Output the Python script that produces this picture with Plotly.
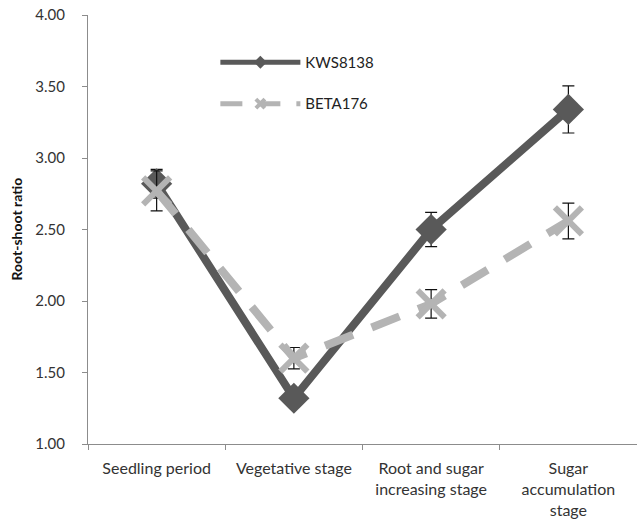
import plotly.graph_objects as go

categories = ["Seedling period", "Vegetative stage", "Root and sugar<br>increasing stage", "Sugar<br>accumulation<br>stage"]
kws_values = [2.82, 1.32, 2.50, 3.34]
kws_err = [0.10, 0.05, 0.12, 0.165]
beta_values = [2.77, 1.60, 1.98, 2.56]
beta_err = [0.14, 0.075, 0.10, 0.125]
y_ticks = [1.0, 1.5, 2.0, 2.5, 3.0, 3.5, 4.0]

KWS_C = "#595959"
BETA_C = "#b4b4b4"

fig = go.Figure()
fig.add_trace(go.Scatter(
    x=categories, y=kws_values, name="KWS8138", mode="lines+markers",
    line=dict(color=KWS_C, width=8),
    marker=dict(symbol="diamond", size=24, color=KWS_C),
    error_y=dict(type="data", array=kws_err, color="#111111", thickness=1.2, width=6),
    showlegend=False,
))
fig.add_trace(go.Scatter(
    x=categories, y=beta_values, name="BETA176", mode="lines+markers",
    line=dict(color=BETA_C, width=8, dash="30px,20px"),
    marker=dict(symbol="x-thin", size=27, color=BETA_C, line=dict(color=BETA_C, width=6)),
    error_y=dict(type="data", array=beta_err, color="#111111", thickness=1.2, width=6),
    showlegend=False,
))
# legend entries
fig.add_trace(go.Scatter(
    x=[None], y=[None], name="KWS8138", mode="lines+markers",
    line=dict(color=KWS_C, width=5),
    marker=dict(symbol="diamond", size=10, color=KWS_C),
    legendgroup="a",
))
fig.add_trace(go.Scatter(
    x=[None], y=[None], name="BETA176", mode="lines+markers",
    line=dict(color=BETA_C, width=5, dash="22px,16px"),
    marker=dict(symbol="x-thin", size=9, color=BETA_C, line=dict(color=BETA_C, width=4)),
    legendgroup="b",
))

fig.update_layout(
    width=637, height=524,
    margin=dict(l=88, r=0, t=15, b=80),
    plot_bgcolor="white", paper_bgcolor="white",
    font=dict(family="Lato, Liberation Sans, sans-serif", size=15, color="#333333"),
    legend=dict(x=0.232, y=0.928, xanchor="left", yanchor="top", itemwidth=80,
                tracegroupgap=19, bgcolor="rgba(0,0,0,0)", font=dict(size=15, color="#222222"),
                traceorder="grouped"),
    showlegend=True,
    annotations=[dict(
        text="<b>Root-shoot ratio</b>", xref="paper", yref="paper", x=0, y=0.5,
        xanchor="center", yanchor="middle", xshift=-72, textangle=-90, showarrow=False,
        font=dict(size=14, color="#111111"),
    )],
)
fig.update_xaxes(
    type="category", showline=True, linecolor="#8c8c8c", linewidth=1,
    ticks="outside", ticklen=5, tickcolor="#8c8c8c", tickson="boundaries",
    showgrid=False, range=[-0.5, 3.5], ticklabelstandoff=10, automargin=False,
    tickfont=dict(size=16),
)
fig.update_yaxes(
    range=[1.0, 4.0], tickvals=y_ticks, tickformat=".2f",
    showline=True, linecolor="#8c8c8c", linewidth=1,
    ticks="outside", ticklen=5, tickcolor="#8c8c8c", showgrid=False, zeroline=False,
    ticklabelstandoff=14, automargin=False, tickfont=dict(size=15),
    ticklabeloverflow="allow",
)

fig.write_html(
    "out.html",
    config={"displayModeBar": False},
    post_script="document.body.style.margin='0';document.body.style.overflow='hidden';",
)
